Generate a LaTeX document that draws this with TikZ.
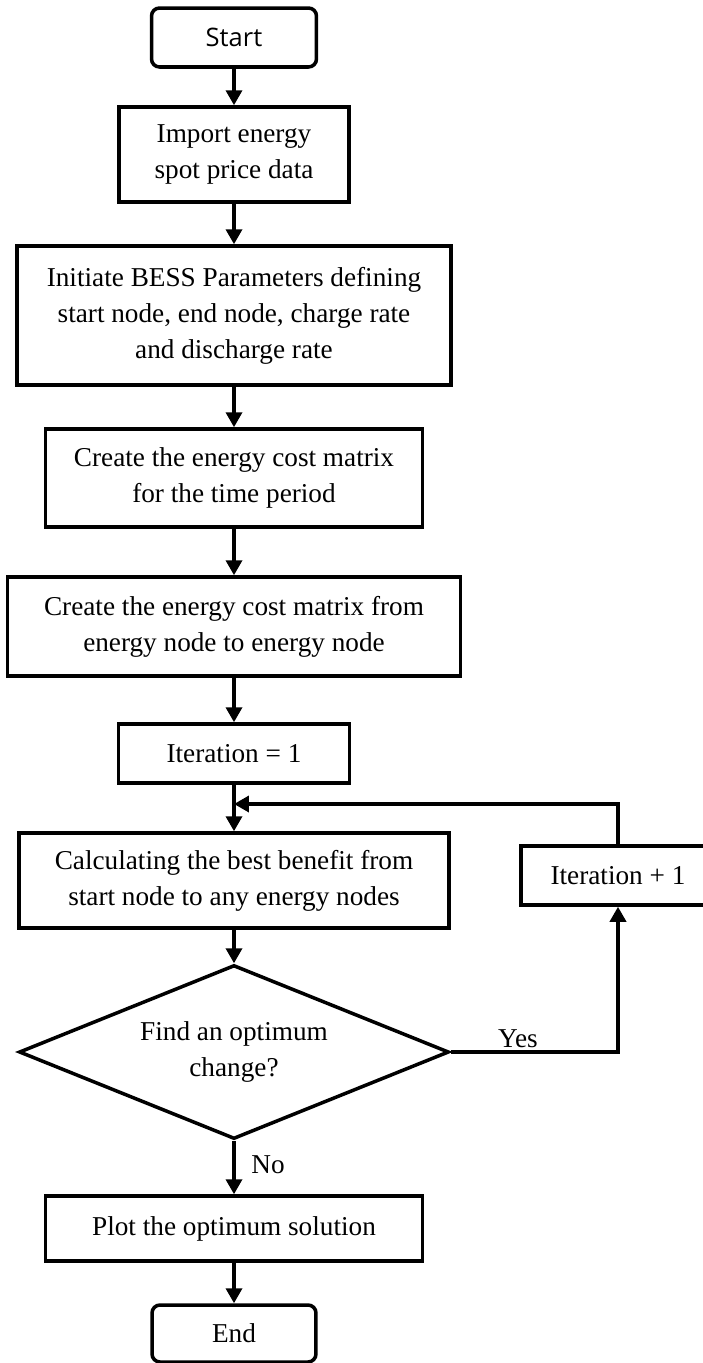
\documentclass[tikz,border=0pt]{standalone}
\usepackage{fontspec}
\setmainfont{Liberation Serif}
\newfontfamily\labelsans{Open Sans}
\usetikzlibrary{shapes.geometric,arrows.meta}
\begin{document}
\begin{tikzpicture}[
  x=0.02cm, y=-0.02cm,
  every node/.style = {align=center, font=\fontsize{15.5}{20.5}\selectfont},
  box/.style = {shape=rectangle, draw, line width=2pt, inner sep=2pt},
  term/.style = {box, rounded corners=0.16cm},
  decide/.style = {shape=diamond, draw, line width=2pt, inner sep=0pt, aspect=2.47},
  arr/.style = {line width=2pt, -{Triangle[length=0.3cm, width=0.32cm]}}
  ]
  \useasboundingbox (0,0) rectangle (703,1363);
  \node[term, minimum width=3.3cm, minimum height=1.18cm,
    font=\labelsans\fontsize{14.5}{17}\selectfont] (start) at (234,37.5) {Start};
  \node[box, minimum width=4.6cm, minimum height=1.9cm] (import) at (234,154.5)
    {Import energy\\spot price data};
  \node[box, minimum width=8.68cm, minimum height=2.78cm] (init) at (234,315.5)
    {Initiate BESS Parameters defining\\start node, end node, charge rate\\and discharge rate};
  \node[box, minimum width=7.54cm, minimum height=1.96cm] (costtime) at (234,478)
    {Create the energy cost matrix\\for the time period};
  \node[box, minimum width=9.06cm, minimum height=1.98cm] (costnode) at (234,626.5)
    {Create the energy cost matrix from\\energy node to energy node};
  \node[box, minimum width=4.62cm, minimum height=1.18cm] (iterone) at (234,753.5)
    {Iteration = 1};
  \node[box, minimum width=8.6cm, minimum height=1.9cm] (calc) at (234,880.5)
    {Calculating the best benefit from\\start node to any energy nodes};
  \node[decide, minimum width=8.6cm, minimum height=3.48cm] (decide) at (234,1052)
    {Find an optimum\\change?};
  \node[box, minimum width=3.88cm, minimum height=1.18cm] (iterinc) at (618,875.5)
    {Iteration + 1};
  \node[box, minimum width=7.54cm, minimum height=1.3cm] (plot) at (234,1228.5)
    {Plot the optimum solution};
  \node[term, minimum width=3.28cm, minimum height=1.14cm] (stop) at (234,1333.5) {End};
  \coordinate (merge) at (234,804);

  \draw[arr] (start) -- (import);
  \draw[arr] (import) -- (init);
  \draw[arr] (init) -- (costtime);
  \draw[arr] (costtime) -- (costnode);
  \draw[arr] (costnode) -- (iterone);
  \draw[arr] (iterone) -- (calc);
  \draw[arr] (calc) -- (decide);
  \draw[arr] (decide.east) -| (iterinc.south);
  \draw[arr] (iterinc.north) |- (merge);
  \draw[arr] (decide) -- (plot);
  \draw[arr] (plot) -- (stop);
  \node[anchor=base] (yes) at (518,1047) {Yes};
  \node[anchor=base] (no) at (268,1173) {No};
\end{tikzpicture}
\end{document}
